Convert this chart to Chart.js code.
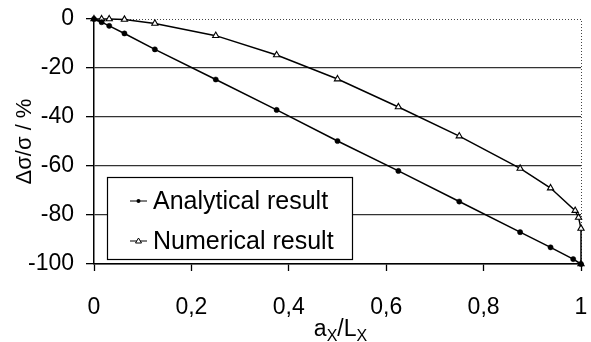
<!DOCTYPE html>
<html><head><meta charset="utf-8">
<script src="https://cdn.jsdelivr.net/npm/chart.js@4.4.1/dist/chart.umd.min.js"></script>
<style>html,body{margin:0;padding:0;background:#fff}</style>
</head><body><canvas id="c" width="591" height="342"></canvas>
<script>
const analyticalX = [0, 0.015625, 0.03125, 0.0625, 0.125, 0.25, 0.375, 0.5, 0.625, 0.75, 0.875, 0.9375, 0.984, 1];
const analyticalY = [0, -1.3, -2.8, -5.9, -12.4, -24.7, -37.1, -49.8, -62, -74.5, -87, -93.2, -98, -100];
const numericalX = [0, 0.015625, 0.03125, 0.0625, 0.125, 0.25, 0.375, 0.5, 0.625, 0.75, 0.875, 0.9375, 0.988, 0.995, 1, 1];
const numericalY = [0, 0, 0, -0.2, -1.8, -6.8, -14.7, -24.5, -35.9, -47.8, -61, -69, -78.2, -81, -85.5, -100];
const seriesNames = ['Analytical result', 'Numerical result'];
const xTickLabels = ['0', '0,2', '0,4', '0,6', '0,8', '1'];
const yTickLabels = ['-100', '-80', '-60', '-40', '-20', '0'];
const yTitle = 'Δσ/σ / %';
const xTitleParts = [['a', false], ['X', true], ['/L', false], ['X', true]];

const FONT = 'Liberation Sans, Arial, sans-serif';

const frame = {
  id: 'frame',
  beforeDatasetsDraw(chart) {
    const {ctx, chartArea: a} = chart;
    ctx.save();
    ctx.strokeStyle = '#444';
    ctx.lineWidth = 1;
    ctx.setLineDash([1, 2]);
    ctx.beginPath();
    ctx.moveTo(a.left, a.top + 0.5);
    ctx.lineTo(a.right + 0.5, a.top + 0.5);
    ctx.lineTo(a.right + 0.5, a.bottom);
    ctx.stroke();
    ctx.restore();
  }
};

const xTitle = {
  id: 'xTitle',
  afterDraw(chart) {
    const {ctx, chartArea: a} = chart;
    ctx.save();
    ctx.fillStyle = '#000';
    ctx.textBaseline = 'alphabetic';
    const big = '23px ' + FONT, small = '16px ' + FONT;
    let w = 0;
    for (const [t, sub] of xTitleParts) { ctx.font = sub ? small : big; w += ctx.measureText(t).width; }
    let x = (a.left + a.right) / 2 + 3 - w / 2;
    const base = 336;
    for (const [t, sub] of xTitleParts) {
      ctx.font = sub ? small : big;
      ctx.fillText(t, x, sub ? base + 5 : base);
      x += ctx.measureText(t).width;
    }
    ctx.restore();
  }
};

const boxLegend = {
  id: 'boxLegend',
  afterDraw(chart) {
    const {ctx} = chart;
    const L = 107, T = 177, R = 352, B = 259;
    ctx.save();
    ctx.fillStyle = '#fff';
    ctx.fillRect(L, T, R - L, B - T);
    ctx.strokeStyle = '#000';
    ctx.lineWidth = 1.2;
    ctx.strokeRect(L + 0.5, T + 0.5, R - L, B - T);
    const rows = [201, 241];
    chart.data.datasets.forEach((ds, i) => {
      const y = rows[i];
      ctx.strokeStyle = '#000';
      ctx.lineWidth = 1;
      ctx.beginPath(); ctx.moveTo(130, y); ctx.lineTo(147, y); ctx.stroke();
      ctx.fillStyle = ds.pointBackgroundColor;
      ctx.beginPath();
      if (ds.pointStyle === 'circle') {
        ctx.arc(138.5, y, 2, 0, Math.PI * 2); ctx.fill();
      } else {
        ctx.moveTo(138.5, y - 3); ctx.lineTo(141.5, y + 2); ctx.lineTo(135.5, y + 2); ctx.closePath();
        ctx.fill(); ctx.stroke();
      }
      ctx.fillStyle = '#000';
      ctx.font = '25px ' + FONT;
      ctx.textBaseline = 'middle';
      ctx.fillText(ds.label, 153, y + 1);
    });
    ctx.restore();
  }
};

new Chart(document.getElementById('c'), {
  type: 'line',
  data: {
    datasets: [
      {
        label: seriesNames[0],
        data: analyticalX.map((x, i) => ({x, y: analyticalY[i]})),
        borderColor: '#000', borderWidth: 1.5, tension: 0,
        pointStyle: 'circle', pointRadius: 2.6, pointBackgroundColor: '#000', pointBorderColor: '#000', pointBorderWidth: 0.5
      },
      {
        label: seriesNames[1],
        data: numericalX.map((x, i) => ({x, y: numericalY[i]})),
        borderColor: '#000', borderWidth: 1.5, tension: 0,
        pointStyle: 'triangle', pointRadius: 3.6, pointBackgroundColor: '#fff', pointBorderColor: '#000', pointBorderWidth: 1.1
      }
    ]
  },
  options: {
    responsive: false, animation: false, devicePixelRatio: 1,
    clip: false,
    layout: {padding: {top: 19, right: 10, left: 0, bottom: 0}},
    plugins: {legend: {display: false}, tooltip: {enabled: false}},
    scales: {
      x: {
        type: 'linear', min: 0, max: 1,
        ticks: {stepSize: 0.2, autoSkip: false, maxRotation: 0, padding: 23, color: '#000',
          font: {family: FONT, size: 23}, callback: (v, i) => xTickLabels[i]},
        grid: {drawOnChartArea: false, tickLength: 7, tickColor: '#000', tickWidth: 1.3},
        border: {color: '#000', width: 1.5},
        afterFit: s => { s.height = 78; s.paddingLeft = 0; s.paddingRight = 0; }
      },
      y: {
        min: -100, max: 0,
        ticks: {stepSize: 20, padding: 12, color: '#000', font: {family: FONT, size: 23},
          callback: (v, i) => yTickLabels[i]},
        grid: {color: c => (c.tick && c.tick.value === 0) ? 'rgba(0,0,0,0)' : '#333', lineWidth: 1.3,
          tickLength: 8, tickColor: '#000', tickWidth: 1.3},
        border: {color: '#000', width: 1.5},
        title: {display: true, text: yTitle, color: '#000', font: {family: FONT, size: 22}, padding: {top: 12, bottom: 0}},
        afterFit: s => { s.width = 94; s.paddingTop = 0; s.paddingBottom = 0; }
      }
    }
  },
  plugins: [frame, xTitle, boxLegend]
});
</script>
</body></html>
